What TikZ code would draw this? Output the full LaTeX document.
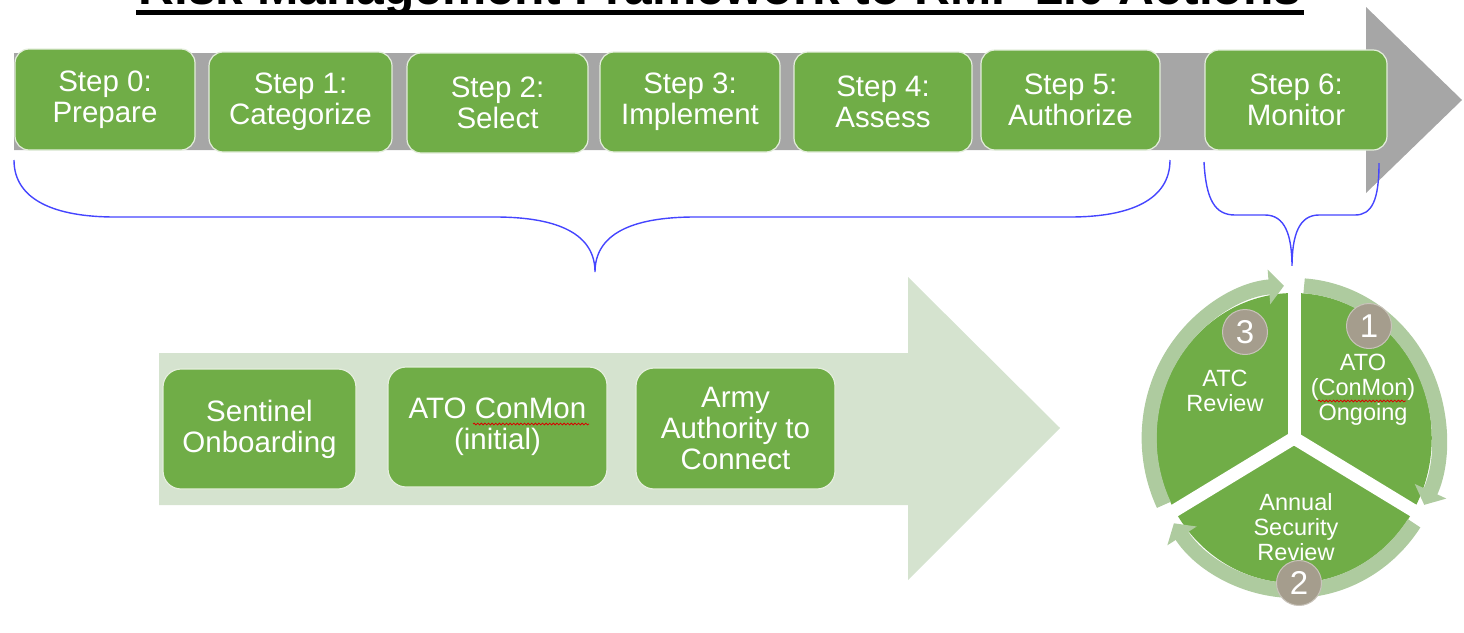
\documentclass[tikz,border=0pt]{standalone}
\usepackage{fontspec}
\setmainfont{Liberation Sans}
\usetikzlibrary{arrows.meta,decorations.pathmorphing}
\definecolor{stepgreen}{HTML}{70AD47}
\definecolor{boxedge}{HTML}{E4EEDC}
\definecolor{arrowgray}{HTML}{A6A6A6}
\definecolor{paleband}{HTML}{D5E3CF}
\definecolor{ringgreen}{HTML}{AECB9F}
\definecolor{taupe}{HTML}{A59D8D}
\definecolor{braceblue}{HTML}{4545FF}
\begin{document}
\begin{tikzpicture}[x=1pt,y=-1pt,
  stepbox/.style={rectangle, rounded corners=14pt, fill=stepgreen, draw=boxedge,
    line width=1.2pt, text=white, align=center, inner sep=0pt,
    font=\fontsize{29.5}{31}\selectfont},
  actbox/.style={stepbox, rounded corners=18pt},
  bracepath/.style={draw=braceblue, line width=1.4pt},
  numdisc/.style={circle, fill=taupe, draw=taupe!60!white, line width=1pt,
    minimum size=45pt, inner sep=0pt, text=white, font=\fontsize{33}{33}\selectfont},
  slicetext/.style={text=white, align=center, inner sep=0pt,
    font=\fontsize{23.5}{25}\selectfont},
  spell/.style={draw=red!85!black, line width=0.8pt, decorate,
    decoration={snake, amplitude=0.9pt, segment length=3.6pt}},
  ringarc/.style={draw=ringgreen, line width=15pt,
    -{Triangle[width=34pt,length=15pt]}}
]
\useasboundingbox (0,0) rectangle (1464,632);
\clip (0,0) rectangle (1464,632);

% title, largely above the page edge
\node[anchor=base, font=\bfseries\fontsize{49.7}{50}\selectfont] (title) at (720,4.5)
  {Risk Management Framework to RMF 2.0 Actions};
\fill (136,9.5) rectangle (1304,14.5);

% grey process arrow
\fill[arrowgray] (14,53) -- (1366,53) -- (1366,7) -- (1462,100) -- (1366,193)
  -- (1366,150) -- (14,150) -- cycle;

% RMF steps
\node[stepbox, minimum width=180pt, minimum height=101pt] (s0) at (105,99.5) {Step 0:\\Prepare};
\node[stepbox, minimum width=183pt, minimum height=100pt] (s1) at (300.5,102) {Step 1:\\Categorize};
\node[stepbox, minimum width=181pt, minimum height=100pt] (s2) at (497.5,103) {Step 2:\\Select};
\node[stepbox, minimum width=180pt, minimum height=100pt] (s3) at (690,102) {Step 3:\\Implement};
\node[stepbox, minimum width=178pt, minimum height=100pt] (s4) at (883,102) {Step 4:\\Assess};
\node[stepbox, minimum width=179pt, minimum height=100pt] (s5) at (1070.5,100) {Step 5:\\Authorize};
\node[stepbox, minimum width=182pt, minimum height=100pt] (s6) at (1296,100) {Step 6:\\Monitor};

% braces grouping the steps
\coordinate (bigL) at (14,160);
\coordinate (bigTip) at (595,272);
\coordinate (bigR) at (1170,160);
\coordinate (smallL) at (1204,162);
\coordinate (smallTip) at (1292,267);
\coordinate (smallR) at (1379,163);
\draw[bracepath] (bigL) .. controls (14,200) and (55,217) .. (115,217) -- (495,217)
  .. controls (560,217) and (595,235) .. (bigTip)
  .. controls (595,235) and (630,217) .. (695,217) -- (1070,217)
  .. controls (1130,217) and (1170,200) .. (bigR);
\draw[bracepath] (smallL) .. controls (1206,200) and (1215,215) .. (1235,215) -- (1265,215)
  .. controls (1285,215) and (1292,235) .. (smallTip)
  .. controls (1292,235) and (1299,215) .. (1319,215) -- (1355,215)
  .. controls (1372,215) and (1379,200) .. (smallR);

% pale action arrow
\fill[paleband] (159,353) -- (908,353) -- (908,277) -- (1060,428) -- (908,580)
  -- (908,505) -- (159,505) -- cycle;
\node[actbox, minimum width=193pt, minimum height=120pt] (a1) at (259.5,429) {Sentinel\\Onboarding};
\node[actbox, minimum width=219pt, minimum height=120pt] (a2) at (497.5,427) {ATO ConMon\\(initial)};
\node[actbox, minimum width=199pt, minimum height=121pt] (a3) at (735.5,428.5) {Army\\Authority to\\Connect};

% continuous monitoring cycle
\begin{scope}[shift={(1294,438)}, xscale=0.95, yscale=-1]
  \fill[stepgreen] (0,0) circle[radius=145];
  \draw[ringarc] (86:152.5) arc[start angle=86, end angle=-26, radius=152.5];
  \draw[ringarc] (-34:152.5) arc[start angle=-34, end angle=-146, radius=152.5];
  \draw[ringarc] (206:152.5) arc[start angle=206, end angle=94, radius=152.5];
  \draw[white, line width=13pt] (0,0) -- (90:172);
  \draw[white, line width=13pt] (0,0) -- (-30:172);
  \draw[white, line width=13pt] (0,0) -- (210:172);
\end{scope}

\node[slicetext] (atc) at (1225,391) {ATC\\Review};
\node[slicetext] (ato) at (1363,390) {ATO\\(ConMon)\\Ongoing};
\node[slicetext] (asr) at (1296,527) {Annual\\Security\\Review};

\node[numdisc] (n3) at (1245,332) {3};
\node[numdisc] (n1) at (1369,326) {1};
\node[numdisc] (n2) at (1299,583) {2};

% proofing marks under ConMon
\draw[spell] (473,424) -- (589,424);
\draw[spell] (1318,401) -- (1406,401);
\end{tikzpicture}
\end{document}
